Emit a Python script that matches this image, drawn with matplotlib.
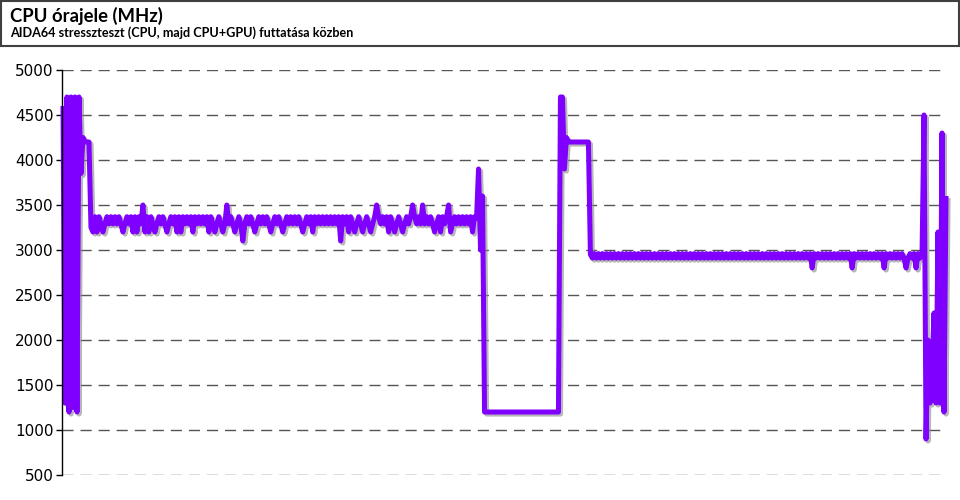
import numpy as np
import matplotlib
matplotlib.use('Agg')
import matplotlib.pyplot as plt
import matplotlib.patheffects as pe
from matplotlib.patches import Rectangle

title = 'CPU órajele (MHz)'
subtitle = 'AIDA64 stresszteszt (CPU, majd CPU+GPU) futtatása közben'
y_ticks = [500, 1000, 1500, 2000, 2500, 3000, 3500, 4000, 4500, 5000]

# startup burst, turbo plateau, drop to sustained CPU load
start = [4600, 1300, 4700, 1200, 4700, 1250, 4700, 1200, 4700, 3850,
         4250, 4200, 4200, 4200, 3250]

# CPU stress test phase
cpu_phase = [
    3200, 3370, 3200, 3370, 3290, 3200, 3290, 3370, 3290, 3370,
    3290, 3370, 3290, 3370, 3290, 3200, 3290, 3370, 3290, 3370,
    3200, 3370, 3200, 3370, 3290, 3500, 3200, 3370, 3200, 3370,
    3290, 3200, 3290, 3370, 3290, 3370, 3290, 3200, 3290, 3370,
    3290, 3370, 3200, 3370, 3200, 3370, 3290, 3370, 3290, 3370,
    3200, 3370, 3290, 3370, 3290, 3370, 3290, 3370, 3200, 3370,
    3290, 3200, 3290, 3370, 3290, 3200, 3290, 3500, 3290, 3370,
    3290, 3200, 3290, 3370, 3290, 3100, 3290, 3370, 3290, 3370,
    3290, 3200, 3290, 3370, 3290, 3370, 3290, 3370, 3290, 3200,
    3290, 3370, 3290, 3370, 3290, 3200, 3290, 3370, 3290, 3370,
    3290, 3370, 3290, 3370, 3290, 3200, 3290, 3370, 3290, 3370,
    3200, 3370, 3290, 3370, 3290, 3370, 3290, 3370, 3290, 3370,
    3290, 3370, 3290, 3370, 3100, 3370, 3290, 3370, 3200, 3370,
    3290, 3200, 3290, 3370, 3290, 3200, 3290, 3370, 3290, 3200,
    3290, 3370, 3500, 3370, 3290, 3370, 3290, 3370, 3200, 3370,
    3290, 3200, 3290, 3370, 3290, 3200, 3290, 3370, 3290, 3370,
    3500, 3370, 3290, 3370, 3290, 3500, 3290, 3370, 3290, 3370,
    3290, 3200, 3290, 3370, 3200, 3370, 3290, 3370, 3500, 3200,
    3290, 3370, 3290, 3370, 3290, 3370, 3290, 3370, 3290, 3370,
    3200, 3370, 3350]

# end of CPU test, idle, restart with CPU+GPU
idle = [3900, 3000, 3600,
        1200, 1200, 1200, 1200, 1200, 1200, 1200, 1200, 1200, 1200,
        1200, 1200, 1200, 1200, 1200, 1200, 1200, 1200, 1200, 1200,
        1200, 1200, 1200, 1200, 1200, 1200, 1200, 1200, 1200, 1200,
        1200, 1200, 1200, 1200, 1200, 1200, 1200, 1200,
        4700, 4700, 3900, 4250,
        4200, 4200, 4200, 4200, 4200, 4200, 4200, 4200, 4200, 4200, 4200,
        2950]

# CPU+GPU stress test phase
gpu_phase = [
    2910, 2960, 2910, 2960, 2910, 2960, 2910, 2960, 2910, 2960,
    2910, 2960, 2910, 2960, 2910, 2960, 2910, 2960, 2910, 2960,
    2910, 2960, 2910, 2960, 2910, 2960, 2910, 2960, 2910, 2960,
    2910, 2960, 2910, 2960, 2910, 2960, 2910, 2960, 2910, 2960,
    2910, 2960, 2910, 2960, 2910, 2960, 2910, 2960, 2910, 2960,
    2910, 2960, 2910, 2960, 2910, 2960, 2910, 2960, 2910, 2960,
    2910, 2960, 2910, 2960, 2910, 2960, 2910, 2960, 2910, 2960,
    2910, 2960, 2910, 2960, 2910, 2960, 2910, 2960, 2910, 2960,
    2910, 2960, 2910, 2960, 2910, 2960, 2910, 2960, 2910, 2960,
    2910, 2960, 2910, 2960, 2910, 2960, 2910, 2960, 2910, 2960,
    2910, 2960, 2910, 2960, 2910, 2960, 2910, 2960, 2910, 2960,
    2800, 2960, 2910, 2960, 2910, 2960, 2910, 2960, 2910, 2960,
    2910, 2960, 2910, 2960, 2910, 2960, 2910, 2960, 2910, 2960,
    2800, 2960, 2910, 2960, 2910, 2960, 2910, 2960, 2910, 2960,
    2910, 2960, 2910, 2960, 2910, 2960, 2800, 2960, 2910, 2960,
    2910, 2960, 2910, 2960, 2910, 2960, 2910, 2800, 2910, 2960,
    2910, 2960, 2800, 2960, 2910]

# test stopped
finish = [2950, 4500, 900, 2000, 1300, 1700, 2300, 1300, 3200, 1300,
          4300, 1200, 3600]

mhz = np.array(start + cpu_phase + idle + gpu_phase + finish)
t = np.arange(len(mhz))

plt.rcParams['font.family'] = ['DejaVu Sans']
fig = plt.figure(figsize=(9.6, 5), dpi=100)
ax = fig.add_axes([62 / 960, 25 / 500, 883 / 960, 405 / 500])

ax.plot(t, mhz, color='#7f00ff', lw=3.6, solid_joinstyle='round',
        solid_capstyle='butt', clip_on=False,
        path_effects=[pe.SimpleLineShadow(offset=(1.5, -1.5), shadow_color='#888888', alpha=0.6),
                      pe.Normal()])

ax.set_xlim(-0.5, 441.5)
ax.set_ylim(500, 5000)
ax.set_yticks(y_ticks)
ax.set_xticks([])
ax.yaxis.grid(True, color='#555555', linestyle=(0, (8, 5)), lw=1)
ax.set_axisbelow(True)
for s in ['top', 'right', 'bottom']:
    ax.spines[s].set_visible(False)
ax.spines['left'].set_color('black')
ax.spines['left'].set_linewidth(1)
ax.tick_params(axis='y', length=4, width=1, pad=2, labelsize=11, colors='black')

# title box
fig.patches.append(Rectangle((1 / 960, 1 - 46 / 500), 958 / 960, 45 / 500,
                             transform=fig.transFigure, fill=False,
                             edgecolor='#404040', lw=1.5))
fig.text(10 / 960, 1 - 22 / 500, title, fontsize=13.3, fontweight='bold',
         family=['Lato', 'DejaVu Sans'], va='baseline')
fig.text(10 / 960, 1 - 37 / 500, subtitle, fontsize=9.1, fontweight='bold',
         family=['Lato', 'DejaVu Sans'], va='baseline')

fig.savefig('out.png', dpi=100)
